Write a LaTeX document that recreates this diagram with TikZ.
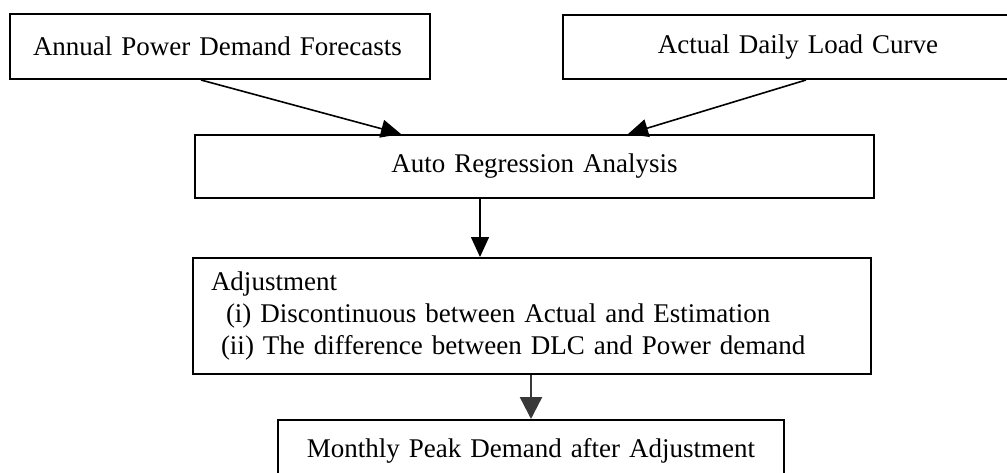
\documentclass[tikz,border=0pt]{standalone}
\usepackage{fontspec}
\setmainfont{Liberation Serif}
\usetikzlibrary{arrows.meta}
\begin{document}
\begin{tikzpicture}[x=1pt,y=-1pt,
  box/.style={draw=black, line width=2pt, rectangle, inner ysep=0pt,
    font=\fontsize{27}{32}\selectfont},
  arr/.style={line width=1.6pt, draw=black, -{Triangle[length=20pt,width=18pt]}},
  darr/.style={line width=2.4pt, draw=black!78, -{Triangle[length=22pt,width=22pt]}},
]
\useasboundingbox (0,0) rectangle (1007,472);
% boxes
\node[box, anchor=north west, minimum height=65pt, inner xsep=23pt, text width=374pt, align=left]
  (b1) at (9,13) {Annual Power Demand Forecasts};
\node[box, anchor=north west, minimum height=64pt, inner xsep=10pt, text width=450pt, align=center]
  (b2) at (562,14) {Actual Daily Load Curve};
\node[box, anchor=north west, minimum height=63pt, inner xsep=10pt, text width=659pt, align=center]
  (b3) at (194,134) {Auto Regression Analysis};
\node[box, anchor=north west, minimum height=116pt, inner xsep=18pt, text width=642pt, align=left]
  (b4) at (192,257) {Adjustment\\\hspace*{15pt}(i) Discontinuous between Actual and Estimation\\\hspace*{10pt}(ii) The difference between DLC and Power demand};
\node[box, anchor=north west, minimum height=61pt, inner xsep=10pt, text width=486pt, align=center]
  (b5) at (277,419) {Monthly Peak Demand after Adjustment};
% connectors
\draw[arr] ([xshift=-19pt]b1.south) -- ([xshift=-133.5pt]b3.north);
\draw[arr] ([xshift=8pt]b2.south) -- ([xshift=93.5pt]b3.north);
\draw[arr] ([xshift=-54.5pt]b3.south) -- ([xshift=-52pt]b4.north);
\draw[darr] ([xshift=-1pt]b4.south) -- (b5.north);
\end{tikzpicture}
\end{document}
